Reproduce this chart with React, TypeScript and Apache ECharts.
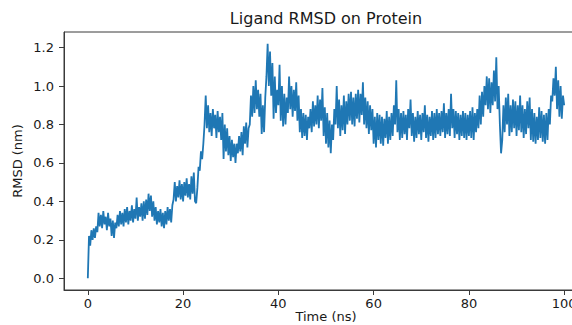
import React, { useEffect, useRef } from "react";
import * as echarts from "echarts";

// Sampling step of the trajectory (ns)
const timeStepNs = 0.25;

// Ligand RMSD (nm), 4 samples per ns (0 .. 100 ns)
const rmsdValues: number[] = [
  0.00, 0.22, 0.17, 0.25, 0.20, 0.26, 0.21, 0.27, 0.24, 0.34, 0.27, 0.33,
  0.26, 0.35, 0.28, 0.32, 0.25, 0.34, 0.27, 0.31, 0.22, 0.30, 0.21, 0.29,
  0.26, 0.33, 0.27, 0.35, 0.28, 0.34, 0.27, 0.36, 0.29, 0.37, 0.28, 0.35,
  0.30, 0.38, 0.29, 0.36, 0.31, 0.42, 0.30, 0.37, 0.32, 0.39, 0.30, 0.40,
  0.31, 0.41, 0.33, 0.44, 0.35, 0.43, 0.32, 0.40, 0.30, 0.37, 0.28, 0.35,
  0.29, 0.36, 0.27, 0.34, 0.26, 0.35, 0.28, 0.37, 0.30, 0.36, 0.29, 0.38,
  0.41, 0.50, 0.40, 0.48, 0.42, 0.51, 0.41, 0.49, 0.40, 0.50, 0.43, 0.52,
  0.42, 0.49, 0.41, 0.53, 0.44, 0.55, 0.40, 0.39, 0.47, 0.58, 0.56, 0.66,
  0.62, 0.70, 0.80, 0.95, 0.78, 0.90, 0.76, 0.86, 0.74, 0.88, 0.78, 0.85,
  0.73, 0.87, 0.76, 0.84, 0.72, 0.86, 0.62, 0.80, 0.66, 0.78, 0.64, 0.74,
  0.61, 0.72, 0.63, 0.70, 0.60, 0.70, 0.65, 0.74, 0.66, 0.76, 0.64, 0.79,
  0.70, 0.81, 0.68, 0.78, 0.80, 0.95, 0.84, 1.00, 0.86, 1.03, 0.88, 0.98,
  0.84, 0.96, 0.75, 0.90, 0.76, 0.94, 1.05, 1.22, 1.00, 1.18, 0.95, 1.12,
  0.83, 1.05, 0.86, 0.98, 0.90, 1.11, 0.82, 1.00, 0.79, 0.96, 0.80, 0.94,
  0.86, 1.05, 0.88, 1.00, 0.84, 0.98, 0.87, 1.02, 0.82, 0.95, 0.76, 0.88,
  0.73, 0.86, 0.74, 0.85, 0.72, 0.84, 0.78, 0.88, 0.76, 0.92, 0.79, 0.90,
  0.80, 0.95, 0.78, 0.93, 0.82, 0.99, 0.74, 0.89, 0.70, 0.86, 0.68, 0.82,
  0.65, 0.80, 0.72, 0.88, 0.80, 1.00, 0.78, 0.93, 0.74, 0.90, 0.77, 0.95,
  0.75, 0.92, 0.80, 0.96, 0.82, 0.97, 0.80, 0.94, 0.79, 0.96, 0.83, 0.98,
  0.81, 0.96, 0.85, 1.02, 0.80, 0.94, 0.78, 0.92, 0.75, 0.90, 0.77, 0.88,
  0.70, 0.84, 0.68, 0.86, 0.72, 0.85, 0.70, 0.84, 0.69, 0.83, 0.73, 0.87,
  0.70, 0.84, 0.72, 0.86, 0.74, 0.90, 0.80, 1.03, 0.76, 0.88, 0.72, 0.86,
  0.73, 0.87, 0.75, 0.85, 0.72, 0.88, 0.78, 0.93, 0.74, 0.86, 0.71, 0.84,
  0.73, 0.87, 0.75, 0.85, 0.72, 0.86, 0.76, 0.90, 0.73, 0.85, 0.71, 0.84,
  0.74, 0.87, 0.72, 0.86, 0.73, 0.88, 0.75, 0.86, 0.74, 0.87, 0.76, 0.91,
  0.73, 0.86, 0.75, 0.88, 0.74, 0.96, 0.78, 0.88, 0.73, 0.87, 0.75, 0.86,
  0.72, 0.85, 0.74, 0.87, 0.73, 0.86, 0.72, 0.85, 0.74, 0.87, 0.73, 0.89,
  0.72, 0.86, 0.76, 0.88, 0.78, 0.95, 0.80, 0.97, 0.84, 1.00, 0.90, 1.05,
  0.88, 1.04, 0.86, 1.02, 0.90, 1.08, 0.92, 1.15, 0.88, 1.00, 0.80, 0.65,
  0.72, 0.90, 0.76, 0.94, 0.80, 0.96, 0.74, 0.90, 0.76, 0.93, 0.78, 0.92,
  0.74, 0.90, 0.77, 0.95, 0.76, 0.90, 0.73, 0.88, 0.75, 0.92, 0.78, 0.94,
  0.72, 0.88, 0.71, 0.86, 0.70, 0.84, 0.72, 0.89, 0.73, 0.87, 0.71, 0.85,
  0.70, 0.86, 0.72, 0.88, 0.80, 0.95, 0.92, 1.04, 0.95, 1.10, 0.88, 1.03,
  0.84, 1.00, 0.83, 0.95, 0.90,
];

const xTickValues = [0, 20, 40, 60, 80, 100];
const yTickValues = [0.0, 0.2, 0.4, 0.6, 0.8, 1.0, 1.2];

const titleText = "Ligand RMSD on Protein";
const xAxisTitle = "Time (ns)";
const yAxisTitle = "RMSD (nm)";

export default function App() {
  const ref = useRef<HTMLDivElement>(null);

  useEffect(() => {
    if (!ref.current) return;
    const chart = echarts.init(ref.current, undefined, { renderer: "svg" });
    const seriesData = rmsdValues.map((v, i) => [i * timeStepNs, v]);
    const font = "DejaVu Sans";
    const textColor = "#1a1a1a";
    const spine = "#3a3a3a";

    chart.setOption({
      animation: false,
      backgroundColor: "#ffffff",
      title: {
        text: titleText,
        left: 326,
        top: 10,
        padding: 0,
        textAlign: "center",
        textStyle: {
          fontFamily: font,
          fontSize: 16,
          fontWeight: "normal",
          color: textColor,
        },
      },
      grid: {
        left: 64,
        right: 12,
        top: 32,
        bottom: 35,
        containLabel: false,
        outerBoundsMode: "none",
        show: true,
        borderColor: spine,
        borderWidth: 1,
        backgroundColor: "transparent",
      },
      xAxis: {
        type: "value",
        min: -5,
        max: 105,
        name: xAxisTitle,
        nameLocation: "middle",
        nameGap: 20,
        nameMoveOverlap: false,
        nameTextStyle: { fontFamily: font, fontSize: 13, color: textColor },
        axisLine: { show: true, onZero: false, lineStyle: { color: spine, width: 1 } },
        axisTick: {
          show: true,
          length: 5,
          customValues: xTickValues,
          lineStyle: { color: spine, width: 1 },
        },
        axisLabel: {
          customValues: xTickValues,
          margin: 7,
          fontFamily: font,
          fontSize: 13,
          color: textColor,
        },
        splitLine: { show: false },
      },
      yAxis: {
        type: "value",
        min: -0.061,
        max: 1.281,
        name: yAxisTitle,
        nameLocation: "middle",
        nameGap: 40,
        nameRotate: 90,
        nameMoveOverlap: false,
        nameTextStyle: { fontFamily: font, fontSize: 13, color: textColor },
        axisLine: { show: true, onZero: false, lineStyle: { color: spine, width: 1 } },
        axisTick: {
          show: true,
          length: 5,
          customValues: yTickValues,
          lineStyle: { color: spine, width: 1 },
        },
        axisLabel: {
          customValues: yTickValues,
          margin: 10,
          fontFamily: font,
          fontSize: 13,
          color: textColor,
          formatter: (v: number) => v.toFixed(1),
        },
        splitLine: { show: false },
      },
      series: [
        {
          type: "line",
          data: seriesData,
          showSymbol: false,
          symbol: "none",
          lineStyle: { color: "#1f77b4", width: 1.8 },
          itemStyle: { color: "#1f77b4" },
        },
      ],
    });

    return () => {
      chart.dispose();
    };
  }, []);

  return (
    <div
      style={{
        position: "fixed",
        left: 0,
        top: 0,
        width: 572,
        height: 325,
        overflow: "hidden",
        background: "#fff",
      }}
    >
      <div ref={ref} style={{ width: 600, height: 325 }} />
    </div>
  );
}
